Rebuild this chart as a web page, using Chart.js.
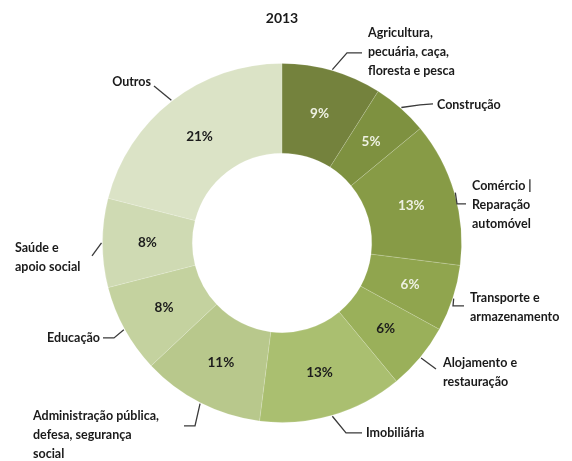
<!DOCTYPE html>
<html>
<head>
<meta charset="utf-8">
<script src="https://cdn.jsdelivr.net/npm/chart.js@4"></script>
<style>
  html, body { margin: 0; padding: 0; background: #fff; }
  #wrap { width: 572px; height: 461px; position: relative; }
</style>
</head>
<body>
<div id="wrap"><canvas id="myChart"></canvas></div>
<script>
// data
var categories = [
  ['Agricultura,', 'pecuária, caça,', 'floresta e pesca'],
  ['Construção'],
  ['Comércio |', 'Reparação', 'automóvel'],
  ['Transporte e', 'armazenamento'],
  ['Alojamento e', 'restauração'],
  ['Imobiliária'],
  ['Administração pública,', 'defesa, segurança', 'social'],
  ['Educação'],
  ['Saúde e', 'apoio social'],
  ['Outros']
];
var shares = [9, 5, 13, 6, 6, 13, 11, 8, 8, 21];
var chartTitle = '2013';

var sliceColors = ['#74823d', '#7e9140', '#879b46', '#90a54e', '#9ab05a',
                   '#aabf70', '#b8c88c', '#c4d29f', '#cfdab3', '#dbe3c6'];
var valueColors = ['#eef1e2', '#eef1e2', '#eef1e2', '#eef1e2', '#1c1c1c',
                   '#1c1c1c', '#1c1c1c', '#1c1c1c', '#1c1c1c', '#1c1c1c'];

// where the outside labels sit, relative to the doughnut centre
var labelPlaces = [
  { tx: 86,   ty: -210, align: 'left',  ex: 80,   ey: -190, elbow: [65, -190] },
  { tx: 155,  ty: -138, align: 'left',  ex: 151,  ey: -139, elbow: [138, -138] },
  { tx: 190,  ty: -57,  align: 'left',  ex: 184,  ey: -39,  elbow: [175, -39] },
  { tx: 188,  ty: 55,   align: 'left',  ex: 182,  ey: 63,   elbow: [171, 63] },
  { tx: 161,  ty: 120,  align: 'left',  ex: 154,  ey: 126 },
  { tx: 84,   ty: 190,  align: 'left',  ex: 80,   ey: 190,  elbow: [64, 190] },
  { tx: -249, ty: 173,  align: 'left',  ex: -98,  ey: 183,  elbow: [-87, 183] },
  { tx: -182, ty: 95,   align: 'right', ex: -179, ey: 95,   elbow: [-168, 95] },
  { tx: -267, ty: 5,    align: 'left',  ex: -190, ey: 13 },
  { tx: -131, ty: -161, align: 'right', ex: -128, ey: -157 }
];

var labelFont = 'bold 12.5px Lato, "Open Sans", sans-serif';
var valueFont = 'bold 13.5px Lato, "Open Sans", sans-serif';

var sliceLabels = {
  id: 'sliceLabels',
  afterDatasetsDraw: function(chart) {
    var ctx = chart.ctx;
    var arcs = chart.getDatasetMeta(0).data;
    ctx.save();
    arcs.forEach(function(arc, i) {
      var p = arc.getProps(['x', 'y', 'startAngle', 'endAngle', 'outerRadius'], true);
      var cx = p.x, cy = p.y;
      var mid = (p.startAngle + p.endAngle) / 2;

      // value inside the ring
      var c = arc.tooltipPosition(true);
      ctx.font = valueFont;
      ctx.fillStyle = valueColors[i];
      ctx.textAlign = 'center';
      ctx.textBaseline = 'middle';
      ctx.fillText(shares[i] + '%', c.x, c.y);

      // leader line
      var lp = labelPlaces[i];
      var sx = cx + Math.cos(mid) * (p.outerRadius + 1);
      var sy = cy + Math.sin(mid) * (p.outerRadius + 1);
      ctx.strokeStyle = '#3a3a3a';
      ctx.lineWidth = 1.3;
      ctx.beginPath();
      ctx.moveTo(sx, sy);
      if (lp.elbow) ctx.lineTo(cx + lp.elbow[0], cy + lp.elbow[1]);
      ctx.lineTo(cx + lp.ex, cy + lp.ey);
      ctx.stroke();

      // category text
      ctx.font = labelFont;
      ctx.fillStyle = '#1a1a1a';
      ctx.textAlign = lp.align;
      categories[i].forEach(function(line, k) {
        ctx.fillText(line, cx + lp.tx, cy + lp.ty + k * 19);
      });
    });
    ctx.restore();
  }
};

var ctx = document.getElementById('myChart').getContext('2d');
var chart = new Chart(ctx, {
  type: 'doughnut',
  data: {
    labels: categories,
    datasets: [{
      data: shares,
      backgroundColor: sliceColors,
      borderColor: 'rgba(255,255,255,0.15)',
      borderWidth: 1
    }]
  },
  options: {
    responsive: true,
    maintainAspectRatio: false,
    animation: false,
    cutout: '50%',
    layout: { padding: { top: 10, left: 102, right: 110, bottom: 38 } },
    plugins: {
      legend: { display: false },
      tooltip: { enabled: false },
      title: {
        display: true,
        text: chartTitle,
        color: '#1a1a1a',
        font: { family: 'Lato, "Open Sans", sans-serif', size: 14, weight: 'bold', lineHeight: 1.2 },
        padding: { top: 0, bottom: 36 }
      }
    }
  },
  plugins: [sliceLabels]
});
</script>
</body>
</html>
